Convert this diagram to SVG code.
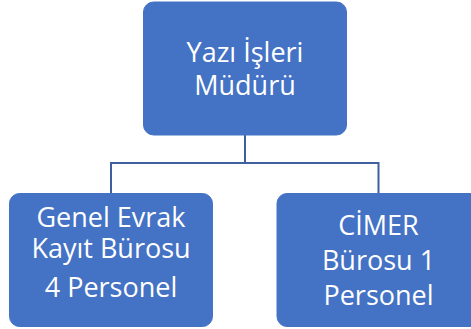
<svg xmlns="http://www.w3.org/2000/svg" width="471" height="329" viewBox="0 0 471 329">
<style>
.box{fill:#4472C4;stroke:#4472C4;stroke-width:1}
.t{font-family:"Open Sans","Noto Sans",sans-serif;font-size:27px;fill:#FFFFFF;text-anchor:middle}
.c{fill:none;stroke:#3F5F9F;stroke-width:2}
</style>
<rect width="471" height="329" fill="#FFFFFF"/>
<g id="connectors">
<path class="c" d="M245 135 V163"/>
<path class="c" d="M111 193 V163 H378.5 V193"/>
</g>
<g id="node-top">
<rect class="box" x="143.5" y="2" width="203" height="133" rx="10"/>
<text class="t" x="245" y="62">Yazı İşleri</text>
<text class="t" x="245" y="95">Müdürü</text>
</g>
<g id="node-left">
<rect class="box" x="9.5" y="193.5" width="203" height="133" rx="10"/>
<text class="t" x="111" y="227">Genel Evrak</text>
<text class="t" x="111" y="258">Kayıt Bürosu</text>
<text class="t" x="111" y="297">4 Personel</text>
</g>
<g id="node-right">
<rect class="box" x="277" y="193.5" width="203" height="133" rx="10"/>
<text class="t" x="378.5" y="235">CİMER</text>
<text class="t" x="378.5" y="270">Bürosu 1</text>
<text class="t" x="378.5" y="305">Personel</text>
</g>
</svg>
